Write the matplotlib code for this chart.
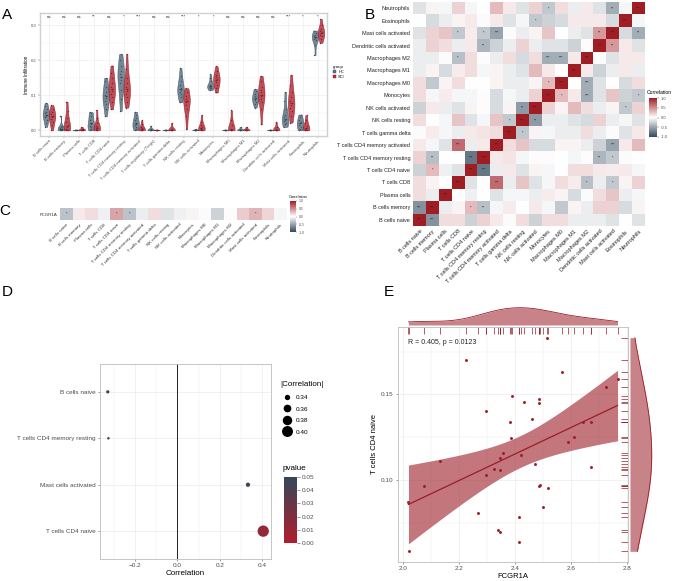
"""Immune infiltration overview: violins, correlation heatmaps, lollipop and scatter."""

import matplotlib

matplotlib.use("Agg")

import matplotlib.pyplot as plt
import numpy as np
from matplotlib.colors import LinearSegmentedColormap
from matplotlib.lines import Line2D
from matplotlib.patches import Patch

plt.rcParams["font.family"] = ["Liberation Sans", "DejaVu Sans"]

# ---------------------------------------------------------------- data
cells_a = [
    "B cells naive", "B cells memory", "Plasma cells", "T cells CD8",
    "T cells CD4 naive", "T cells CD4 memory resting",
    "T cells CD4 memory activated", "T cells regulatory (Tregs)",
    "T cells gamma delta", "NK cells resting", "NK cells activated",
    "Monocytes", "Macrophages M0", "Macrophages M1", "Macrophages M2",
    "Dendritic cells activated", "Mast cells activated", "Eosinophils",
    "Neutrophils",
]
signif_a = ["ns", "ns", "ns", "**", "ns", "*", "***", "ns", "ns", "***",
            "*", "*", "ns", "ns", "ns", "ns", "***", "*", "*"]

a_hc = [
    [0.010, 0.020, 0.030, 0.038, 0.042, 0.045, 0.048, 0.052, 0.060, 0.070, 0.078],
    [0.000, 0.001, 0.002, 0.003, 0.004, 0.005, 0.006, 0.008, 0.012, 0.042],
    [0.000, 0.000, 0.000, 0.001, 0.001, 0.002],
    [0.000, 0.003, 0.008, 0.012, 0.018, 0.022, 0.030, 0.040, 0.048, 0.052],
    [0.040, 0.060, 0.075, 0.085, 0.092, 0.097, 0.102, 0.110, 0.125, 0.140, 0.150],
    [0.055, 0.090, 0.115, 0.135, 0.145, 0.152, 0.160, 0.170, 0.185, 0.200, 0.218],
    [0.000, 0.005, 0.010, 0.015, 0.018, 0.022, 0.028, 0.035, 0.045, 0.053],
    [0.000, 0.000, 0.001, 0.002, 0.003, 0.013],
    [0.000, 0.000, 0.000, 0.001, 0.001, 0.002],
    [0.080, 0.095, 0.105, 0.110, 0.115, 0.120, 0.128, 0.140, 0.155, 0.178],
    [0.000, 0.000, 0.001, 0.001, 0.002, 0.003],
    [0.115, 0.120, 0.122, 0.124, 0.125, 0.126, 0.128, 0.130, 0.140, 0.150, 0.160],
    [0.000, 0.000, 0.000, 0.001, 0.001, 0.002],
    [0.000, 0.000, 0.001, 0.002, 0.003, 0.010],
    [0.065, 0.075, 0.082, 0.087, 0.090, 0.093, 0.097, 0.105, 0.112, 0.118],
    [0.000, 0.000, 0.000, 0.001, 0.001, 0.002],
    [0.010, 0.018, 0.022, 0.026, 0.030, 0.033, 0.037, 0.045, 0.060, 0.085, 0.110],
    [0.000, 0.005, 0.010, 0.015, 0.020, 0.025, 0.030, 0.038, 0.045],
    [0.215, 0.245, 0.258, 0.262, 0.265, 0.267, 0.269, 0.272, 0.278, 0.285],
]
a_sci = [
    [0.000, 0.015, 0.025, 0.033, 0.038, 0.042, 0.046, 0.052, 0.060, 0.072],
    [0.000, 0.000, 0.002, 0.004, 0.008, 0.015, 0.025, 0.035, 0.055, 0.082],
    [0.000, 0.000, 0.001, 0.002, 0.003, 0.005, 0.010],
    [0.000, 0.000, 0.002, 0.004, 0.006, 0.008, 0.012, 0.020, 0.035, 0.058],
    [0.060, 0.080, 0.095, 0.105, 0.112, 0.118, 0.125, 0.135, 0.150, 0.165, 0.185],
    [0.065, 0.080, 0.095, 0.105, 0.112, 0.118, 0.125, 0.135, 0.150, 0.175, 0.218],
    [0.000, 0.000, 0.001, 0.002, 0.004, 0.006, 0.010, 0.018, 0.028],
    [0.000, 0.000, 0.000, 0.001, 0.001, 0.002],
    [0.000, 0.000, 0.001, 0.002, 0.005, 0.020],
    [0.003, 0.040, 0.060, 0.072, 0.080, 0.085, 0.090, 0.098, 0.110, 0.120],
    [0.000, 0.000, 0.002, 0.004, 0.007, 0.010, 0.015, 0.025, 0.043],
    [0.108, 0.120, 0.130, 0.137, 0.143, 0.147, 0.152, 0.158, 0.168, 0.183],
    [0.000, 0.000, 0.001, 0.002, 0.005, 0.015, 0.030, 0.057],
    [0.000, 0.000, 0.001, 0.002, 0.004, 0.010],
    [0.017, 0.060, 0.080, 0.090, 0.097, 0.102, 0.108, 0.115, 0.125, 0.140, 0.155],
    [0.000, 0.000, 0.001, 0.002, 0.004, 0.010, 0.023],
    [0.022, 0.040, 0.055, 0.065, 0.072, 0.078, 0.085, 0.095, 0.110, 0.130, 0.158],
    [0.000, 0.000, 0.002, 0.004, 0.007, 0.012, 0.020, 0.030, 0.043],
    [0.250, 0.260, 0.268, 0.273, 0.277, 0.280, 0.284, 0.290, 0.300, 0.318],
]

cells_b = [
    "B cells naive", "B cells memory", "Plasma cells", "T cells CD8",
    "T cells CD4 naive", "T cells CD4 memory resting",
    "T cells CD4 memory activated", "T cells gamma delta", "NK cells resting",
    "NK cells activated", "Monocytes", "Macrophages M0", "Macrophages M1",
    "Macrophages M2", "Dendritic cells activated", "Mast cells activated",
    "Eosinophils", "Neutrophils",
]
# lower triangle of the correlation matrix, row i holds columns 0..i-1
corr_lower = [
    [],
    [-0.60],
    [0.15, -0.10],
    [0.15, 0.05, 0.00],
    [-0.25, 0.30, -0.08, -0.15],
    [0.20, -0.35, 0.00, 0.00, -0.75],
    [0.10, -0.05, -0.15, 0.65, -0.10, 0.10],
    [-0.02, 0.08, -0.05, -0.10, 0.10, 0.12, 0.15],
    [0.15, 0.00, -0.05, 0.25, -0.15, -0.05, 0.25, -0.30],
    [-0.25, 0.10, -0.10, -0.15, 0.05, 0.02, -0.20, 0.05, -0.55],
    [0.15, -0.05, 0.08, -0.05, -0.05, 0.02, -0.20, -0.05, -0.10, 0.20],
    [0.15, -0.30, 0.05, 0.15, 0.00, 0.00, 0.05, -0.10, -0.10, 0.05, 0.30],
    [-0.10, 0.05, -0.20, 0.08, 0.15, -0.05, 0.05, -0.10, -0.15, 0.30, 0.10, 0.00],
    [-0.10, -0.10, -0.02, -0.35, 0.15, 0.02, -0.10, 0.15, -0.20, 0.15, -0.45,
     -0.45, 0.10],
    [-0.10, 0.20, 0.15, -0.10, 0.10, -0.40, -0.25, -0.10, 0.20, -0.10, -0.15,
     -0.15, -0.25, 0.02],
    [-0.15, 0.20, 0.25, -0.30, 0.08, -0.30, -0.50, -0.02, -0.10, 0.05, 0.25,
     0.00, -0.10, -0.15, 0.45],
    [0.00, -0.20, -0.10, 0.05, 0.10, -0.02, 0.10, -0.15, -0.05, -0.30, -0.25,
     -0.20, 0.10, 0.10, 0.10, -0.20],
    [-0.15, 0.05, -0.05, 0.20, -0.05, 0.00, 0.30, 0.10, -0.15, 0.20, -0.30,
     0.15, -0.10, 0.10, -0.15, -0.45, -0.05],
]
# significant pairs (row, col) -> stars
stars_b = {
    (1, 0): "***", (4, 1): "*", (5, 1): "**", (6, 3): "***", (13, 3): "*",
    (15, 3): "*", (5, 4): "***", (14, 5): "**", (15, 5): "*", (15, 6): "***",
    (8, 7): "*", (9, 8): "**", (16, 9): "*", (11, 10): "*", (13, 10): "***",
    (17, 10): "*", (13, 11): "***", (15, 14): "**", (17, 15): "**",
}

corr_c = [-0.33, 0.10, 0.15, -0.08, 0.40, -0.33, -0.10, 0.15, -0.15, -0.08,
          0.05, -0.02, -0.25, 0.02, 0.22, 0.33, 0.18, -0.05]
stars_c = ["*", "", "", "", "*", "*", "", "", "", "", "", "", "", "", "", "*", "", ""]

d_cells = ["T cells CD4 naive", "Mast cells activated",
           "T cells CD4 memory resting", "B cells naive"]
d_corr = [0.405, 0.333, -0.325, -0.328]
d_pvalue = [0.0123, 0.041, 0.046, 0.044]
d_size_breaks = [0.34, 0.36, 0.38, 0.40]

e_fcgr1a = [2.514, 2.224, 2.568, 2.765, 2.724, 2.387, 2.485, 2.432, 2.485,
            2.295, 2.461, 2.379, 2.643, 2.669, 2.385, 2.608, 2.588, 2.131,
            2.355, 2.420, 2.344, 2.469, 2.671, 2.323, 2.346, 2.294, 2.075,
            2.018, 2.488, 2.483, 2.518, 2.500, 2.267, 2.413, 2.337, 2.344,
            2.412, 2.019]
e_cd4 = [0.1831, 0.1699, 0.1628, 0.1592, 0.1541, 0.1488, 0.1475, 0.1455,
         0.1450, 0.1403, 0.1358, 0.1337, 0.1337, 0.1339, 0.1247, 0.1253,
         0.1224, 0.1109, 0.1158, 0.1146, 0.1130, 0.1093, 0.1076, 0.1062,
         0.1056, 0.1027, 0.0961, 0.0868, 0.0969, 0.0963, 0.0953, 0.0842,
         0.0805, 0.0780, 0.0704, 0.0694, 0.0634, 0.0582]

# ---------------------------------------------------------------- style
W, H = 675, 581
HC_FACE, HC_EDGE = "#5b7282", "#3d5263"
SCI_FACE, SCI_EDGE = "#b3303c", "#8e1b26"
RED = "#9b1d26"
GRID = "#ebebeb"
TICK = "#4d4d4d"
corr_cmap = LinearSegmentedColormap.from_list("corr", ["#33495d", "#ffffff", "#a11d24"])
p_cmap = LinearSegmentedColormap.from_list("pval", ["#b01e2d", "#33475b"])


def rect(x0, y0, x1, y1):
    """Axes rectangle from pixel corners measured from the top left."""
    return [x0 / W, 1 - y1 / H, (x1 - x0) / W, (y1 - y0) / H]


def kde(values, grid, adjust=1.0):
    """Gaussian density with the nrd0 bandwidth."""
    values = np.asarray(values)
    q75, q25 = np.percentile(values, [75, 25])
    bw = 0.9 * min(values.std(ddof=1), (q75 - q25) / 1.34) * len(values) ** -0.2
    bw *= adjust
    z = (grid[:, None] - values[None, :]) / bw
    return np.exp(-0.5 * z ** 2).sum(axis=1) / (len(values) * bw * np.sqrt(2 * np.pi))


fig = plt.figure(figsize=(W / 100, H / 100), dpi=100)

# ---------------------------------------------------------------- A
ax_a = fig.add_axes(rect(40, 13, 327, 136))
pos = np.arange(len(cells_a))
for vals, offset, face, edge in [(a_hc, -0.2, HC_FACE, HC_EDGE),
                                 (a_sci, 0.2, SCI_FACE, SCI_EDGE)]:
    parts = ax_a.violinplot(vals, positions=pos + offset, widths=0.44,
                            showextrema=False)
    for body in parts["bodies"]:
        body.set_facecolor(face)
        body.set_edgecolor(edge)
        body.set_alpha(0.85)
        body.set_linewidth(0.4)
    for i, v in enumerate(vals):
        jit = (np.arange(len(v)) % 3 - 1) * 0.045
        ax_a.scatter(pos[i] + offset + jit, v, s=1.0, color=edge, lw=0, zorder=3)
        ax_a.plot([pos[i] + offset - 0.07, pos[i] + offset + 0.07],
                  [np.median(v)] * 2, color="#333333", lw=0.4, zorder=4)
for i, lab in enumerate(signif_a):
    ax_a.text(pos[i], 0.325, lab, ha="center", va="center", fontsize=3.2, color="#333333")
ax_a.set_xlim(-0.6, len(cells_a) - 0.4)
ax_a.set_ylim(-0.0163, 0.335)
ax_a.set_yticks([0.0, 0.1, 0.2, 0.3], ["0.0", "0.1", "0.2", "0.3"])
ax_a.set_yticks([0.05, 0.15, 0.25], minor=True)
ax_a.set_xticks(pos, cells_a, rotation=45, ha="right", rotation_mode="anchor")
ax_a.tick_params(axis="both", labelsize=3, colors=TICK, length=1.2, width=0.3, pad=1)
ax_a.tick_params(axis="y", which="minor", length=0)
ax_a.grid(True, which="major", color=GRID, lw=0.4)
ax_a.grid(True, which="minor", axis="y", color=GRID, lw=0.25)
ax_a.set_axisbelow(True)
for sp in ax_a.spines.values():
    sp.set_color("#d0d0d0")
    sp.set_linewidth(1.0)
ax_a.set_ylabel("Immune Infiltration", fontsize=3.3, labelpad=1.5)
fig.legend(handles=[Patch(facecolor=HC_FACE, edgecolor=HC_EDGE, lw=0.3),
                    Patch(facecolor=SCI_FACE, edgecolor=SCI_EDGE, lw=0.3)],
           labels=["HC", "SCI"], title="group", loc="upper left",
           bbox_to_anchor=(330 / W, 1 - 62 / H), fontsize=2.8, title_fontsize=3.2,
           frameon=False, handlelength=0.9, handleheight=0.7, labelspacing=0.3,
           borderpad=0.2, handletextpad=0.5)

# ---------------------------------------------------------------- B
n = len(cells_b)
corr_b = np.eye(n)
for i, row in enumerate(corr_lower):
    for j, v in enumerate(row):
        corr_b[i, j] = corr_b[j, i] = v
ax_b = fig.add_axes(rect(413, 2, 645, 226))
mesh_b = ax_b.pcolormesh(np.arange(n + 1), np.arange(n + 1), corr_b,
                         cmap=corr_cmap, vmin=-1, vmax=1)
for (i, j), s in stars_b.items():
    for r, c in [(i, j), (j, i)]:
        ax_b.text(c + 0.5, r + 0.5, s, ha="center", va="center", fontsize=2.8,
                  color="#222222")
for k in range(n):
    ax_b.text(k + 0.5, k + 0.5, "***", ha="center", va="center", fontsize=2.8,
              color="#222222")
ax_b.set_xlim(0, n)
ax_b.set_ylim(0, n)
ax_b.set_xticks(np.arange(n) + 0.5, cells_b, rotation=45, ha="right",
                rotation_mode="anchor")
ax_b.set_yticks(np.arange(n) + 0.5, cells_b)
ax_b.tick_params(labelsize=4, colors="#222222", length=0, pad=2)
for sp in ax_b.spines.values():
    sp.set_visible(False)
cax_b = fig.add_axes(rect(649, 98, 657, 137))
cb_b = fig.colorbar(mesh_b, cax=cax_b, ticks=[-1, -0.5, 0, 0.5, 1])
cb_b.ax.set_yticklabels(["-1.0", "-0.5", "0.0", "0.5", "1.0"])
cb_b.outline.set_visible(False)
cb_b.ax.tick_params(labelsize=3, colors=TICK, length=1.5, width=0.3, pad=1.5)
fig.text(647 / W, 1 - 92 / H, "Correlation", fontsize=3.6, va="center", ha="left")

# ---------------------------------------------------------------- C
ax_c = fig.add_axes(rect(60, 208, 287, 220))
mesh_c = ax_c.pcolormesh(np.arange(n + 1), [0, 1], np.array([corr_c]),
                         cmap=corr_cmap, vmin=-1, vmax=1)
for k, s in enumerate(stars_c):
    if s:
        ax_c.text(k + 0.5, 0.5, s, ha="center", va="center", fontsize=2.8,
                  color="#222222")
ax_c.set_xticks(np.arange(n) + 0.5, cells_b, rotation=45, ha="right",
                rotation_mode="anchor")
ax_c.set_yticks([0.5], ["FCGR1A"])
ax_c.tick_params(labelsize=3.2, colors="#333333", length=0, pad=2)
for sp in ax_c.spines.values():
    sp.set_visible(False)
cax_c = fig.add_axes(rect(290, 201, 296, 232))
cb_c = fig.colorbar(mesh_c, cax=cax_c, ticks=[-1, -0.5, 0, 0.5, 1])
cb_c.ax.set_yticklabels(["-1.0", "-0.5", "0.0", "0.5", "1.0"])
cb_c.outline.set_visible(False)
cb_c.ax.tick_params(labelsize=2.4, colors=TICK, length=1.0, width=0.3, pad=1)
fig.text(289 / W, 1 - 197 / H, "Correlation", fontsize=2.8, va="center", ha="left")

# ---------------------------------------------------------------- D
ax_d = fig.add_axes(rect(100, 364, 271, 559))
y_d = np.arange(1, len(d_cells) + 1)
abs_corr = np.abs(d_corr)
s_min, s_max = (2.5 * 0.72) ** 2, (11.3 * 0.72) ** 2


def size_scale(v):
    return s_min + (v - abs_corr.min()) / (abs_corr.max() - abs_corr.min()) * (s_max - s_min)


ax_d.axvline(0, color="black", lw=0.6, zorder=2)
ax_d.scatter(d_corr, y_d, s=size_scale(abs_corr), c=d_pvalue, cmap=p_cmap,
             vmin=0, vmax=0.05, lw=0, zorder=3)
lo, hi = min(d_corr), max(d_corr)
pad = 0.05 * (hi - lo)
ax_d.set_xlim(lo - pad, hi + pad)
ax_d.set_ylim(0.4, len(d_cells) + 0.6)
ax_d.set_xticks([-0.2, 0.0, 0.2, 0.4], ["−0.2", "0.0", "0.2", "0.4"])
ax_d.set_xticks([-0.3, -0.1, 0.1, 0.3], minor=True)
ax_d.set_yticks(y_d, d_cells)
ax_d.tick_params(labelsize=4.6, colors=TICK, length=1.5, width=0.4, pad=1.5)
ax_d.tick_params(which="minor", length=0)
ax_d.grid(True, which="major", color=GRID, lw=0.5)
ax_d.grid(True, which="minor", axis="x", color=GRID, lw=0.3)
ax_d.set_axisbelow(True)
for sp in ax_d.spines.values():
    sp.set_color("#bdbdbd")
    sp.set_linewidth(0.6)
ax_d.set_xlabel("Correlation", fontsize=5.8, labelpad=1)
size_handles = [Line2D([], [], marker="o", ls="", color="black", markeredgewidth=0,
                       markersize=np.sqrt(size_scale(v))) for v in d_size_breaks]
fig.legend(handles=size_handles, labels=[f"{v:.2f}" for v in d_size_breaks],
           title="|Correlation|", loc="upper left",
           bbox_to_anchor=(276 / W, 1 - 377 / H), fontsize=4.6, title_fontsize=5.8,
           frameon=False, labelspacing=0.95, handletextpad=0.4, borderpad=0.2,
           alignment="left")
cax_d = fig.add_axes(rect(284, 477, 297, 543))
sm = plt.cm.ScalarMappable(cmap=p_cmap, norm=plt.Normalize(0, 0.05))
cb_d = fig.colorbar(sm, cax=cax_d, ticks=[0, 0.01, 0.02, 0.03, 0.04, 0.05])
cb_d.ax.set_yticklabels([f"{t:.2f}" for t in [0, 0.01, 0.02, 0.03, 0.04, 0.05]])
cb_d.outline.set_visible(False)
cb_d.ax.tick_params(labelsize=4.6, colors=TICK, length=2, width=0.4, pad=1.5)
fig.text(283 / W, 1 - 469 / H, "pvalue", fontsize=5.8, va="center", ha="left")

# ---------------------------------------------------------------- E
x_e, y_e = np.array(e_fcgr1a), np.array(e_cd4)
ax_e = fig.add_axes(rect(398, 327, 628, 562))
slope, intercept = np.polyfit(x_e, y_e, 1)
xs = np.linspace(x_e.min(), x_e.max(), 100)
fit = intercept + slope * xs
resid = y_e - (intercept + slope * x_e)
s_err = np.sqrt((resid ** 2).sum() / (len(x_e) - 2))
se = s_err * np.sqrt(1 / len(x_e) + (xs - x_e.mean()) ** 2 / ((x_e - x_e.mean()) ** 2).sum())
t_crit = 2.028
ax_e.fill_between(xs, fit - t_crit * se, fit + t_crit * se, color=RED, alpha=0.6,
                  lw=0, zorder=2)
ax_e.plot(xs, fit, color=RED, lw=0.9, zorder=3)
ax_e.scatter(x_e, y_e, s=4.5, color=RED, lw=0, zorder=4)
ax_e.vlines(x_e, 0.97, 1.0, transform=ax_e.get_xaxis_transform(), color=RED, lw=0.5)
ax_e.hlines(y_e, 0.97, 1.0, transform=ax_e.get_yaxis_transform(), color=RED, lw=0.5)
xpad = 0.05 * (x_e.max() - x_e.min())
ypad = 0.05 * (y_e.max() - y_e.min())
ax_e.set_xlim(x_e.min() - xpad, x_e.max() + xpad)
ax_e.set_ylim(y_e.min() - ypad, y_e.max() + ypad)
ax_e.set_xticks([2.0, 2.2, 2.4, 2.6, 2.8])
ax_e.set_yticks([0.10, 0.15], ["0.10", "0.15"])
ax_e.set_xticks([2.1, 2.3, 2.5, 2.7], minor=True)
ax_e.set_yticks([0.075, 0.125, 0.175], minor=True)
ax_e.tick_params(labelsize=4.6, colors=TICK, length=1.5, width=0.4, pad=1.5)
ax_e.tick_params(which="minor", length=0)
ax_e.grid(True, which="major", color=GRID, lw=0.5)
ax_e.grid(True, which="minor", color=GRID, lw=0.3)
ax_e.set_axisbelow(True)
for sp in ax_e.spines.values():
    sp.set_color("#bdbdbd")
    sp.set_linewidth(0.6)
ax_e.set_xlabel("FCGR1A", fontsize=5.5, labelpad=1)
ax_e.set_ylabel("T cells CD4 naive", fontsize=5.5, labelpad=2)
ax_e.text(0.043, 0.936, "R = 0.405, p = 0.0123", transform=ax_e.transAxes,
          fontsize=5, va="center", ha="left", color="#222222")

ax_top = fig.add_axes(rect(398, 293, 628, 327))
gx = np.linspace(x_e.min(), x_e.max(), 200)
dx = kde(x_e, gx, adjust=1.5)
ax_top.fill_between(gx, 0, dx, color=RED, alpha=0.55, lw=0)
ax_top.plot(gx, dx, color=RED, lw=0.6)
ax_top.set_xlim(ax_e.get_xlim())
ax_top.set_ylim(-0.116 * dx.max(), 1.85 * dx.max())
ax_top.axis("off")

ax_right = fig.add_axes(rect(628, 327, 660, 562))
gy = np.linspace(y_e.min(), y_e.max(), 200)
dy = kde(y_e, gy, adjust=1.5)
ax_right.fill_betweenx(gy, 0, dy, color=RED, alpha=0.55, lw=0)
ax_right.plot(dy, gy, color=RED, lw=0.6)
ax_right.set_ylim(ax_e.get_ylim())
ax_right.set_xlim(-0.09 * dy.max(), 1.38 * dy.max())
ax_right.axis("off")

# ---------------------------------------------------------------- panel letters
for letter, x, y in [("A", 7, 15), ("B", 370, 15), ("C", 5, 211),
                     ("D", 7, 292), ("E", 389, 292)]:
    fig.text(x / W, 1 - y / H, letter, fontsize=11, ha="center", va="center")

fig.savefig("out.png", dpi=100)
